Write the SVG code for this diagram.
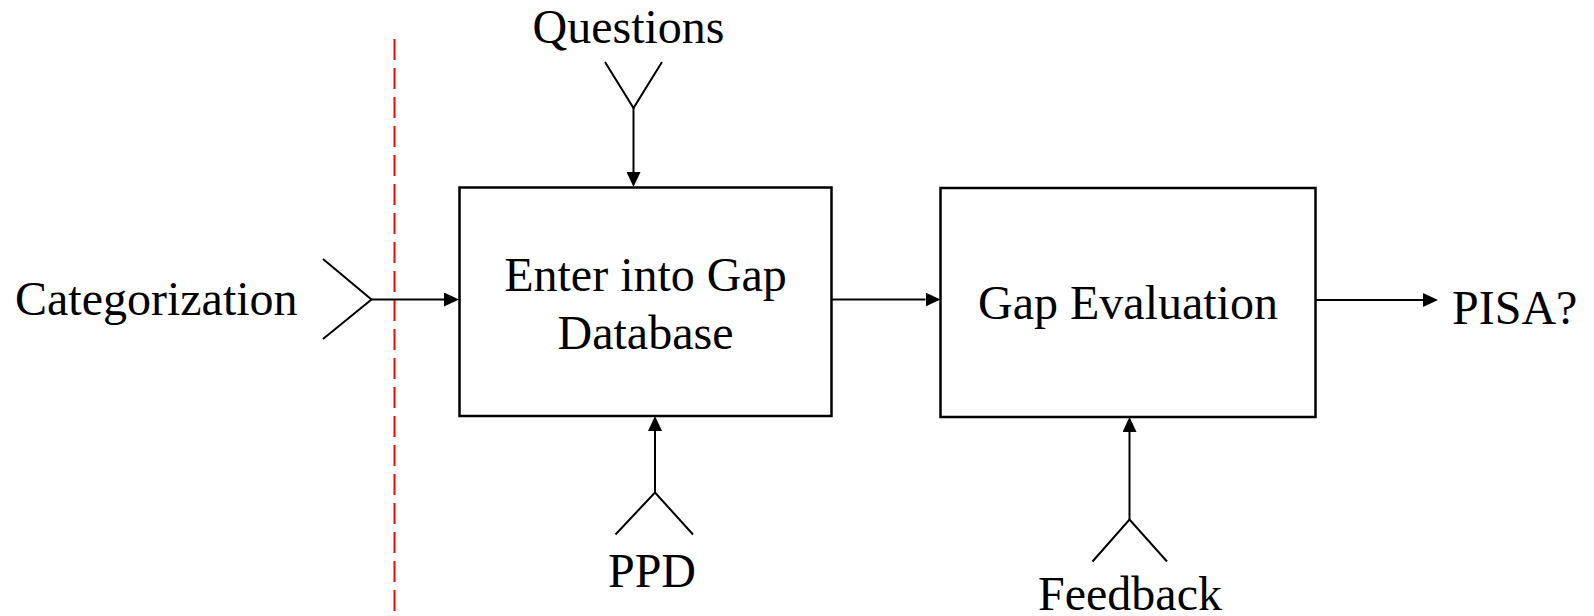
<svg xmlns="http://www.w3.org/2000/svg" width="1594" height="616" viewBox="0 0 1594 616">
<style>
text{font-family:"Liberation Serif","Times New Roman",serif;font-size:48px;fill:#000}
.box{fill:#fff;stroke:#000;stroke-width:2.5}
.ln{fill:none;stroke:#000;stroke-width:2}
.arr{marker-end:url(#ah)}
.sep{stroke:#ff0000;stroke-width:2;stroke-dasharray:21 8;fill:none}
</style>
<defs>
<marker id="ah" viewBox="0 0 15 14" refX="0" refY="7" markerWidth="15" markerHeight="14" markerUnits="userSpaceOnUse" orient="auto">
<path d="M0,0 L15,7 L0,14 z" fill="#000"/>
</marker>
</defs>
<rect width="1594" height="616" fill="#fff"/>
<line class="sep" x1="394.5" y1="39" x2="394.5" y2="616"/>
<g id="connectors">
<polyline class="ln" points="605,62 633.5,108 662,62"/>
<line class="ln arr" x1="633.5" y1="108" x2="633.5" y2="172"/>
<polyline class="ln" points="323,259 371.5,299.5 323,339"/>
<line class="ln arr" x1="371.5" y1="299.5" x2="444" y2="299.5"/>
<polyline class="ln" points="615.5,534.5 655,492.5 693,534.5"/>
<line class="ln arr" x1="655" y1="492.5" x2="655" y2="431"/>
<line class="ln arr" x1="831.5" y1="299.5" x2="925.5" y2="299.5"/>
<line class="ln arr" x1="1315.5" y1="300" x2="1423" y2="300"/>
<polyline class="ln" points="1092.5,561.5 1129.5,519.5 1167,561.5"/>
<line class="ln arr" x1="1129.5" y1="519.5" x2="1129.5" y2="432"/>
</g>
<g id="node-enter">
<rect class="box" x="459.5" y="187.5" width="372" height="228.5"/>
<text x="645.5" y="291" text-anchor="middle">Enter into Gap</text>
<text x="645.5" y="348.5" text-anchor="middle">Database</text>
</g>
<g id="node-eval">
<rect class="box" x="940.5" y="188" width="375" height="229"/>
<text x="1128" y="318.5" text-anchor="middle">Gap Evaluation</text>
</g>
<g id="label-questions"><text x="628.5" y="43" text-anchor="middle">Questions</text></g>
<g id="label-categorization"><text x="15" y="315">Categorization</text></g>
<g id="label-ppd"><text x="652" y="587" text-anchor="middle">PPD</text></g>
<g id="label-feedback"><text x="1130" y="610" text-anchor="middle">Feedback</text></g>
<g id="label-pisa"><text x="1452" y="323.5">PISA?</text></g>
</svg>
